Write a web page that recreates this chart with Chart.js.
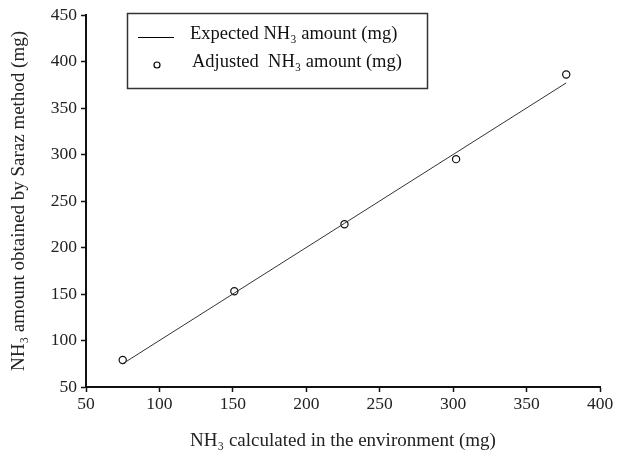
<!DOCTYPE html>
<html>
<head>
<meta charset="utf-8">
<script src="https://cdn.jsdelivr.net/npm/chart.js@4"></script>
<style>
  html, body { margin: 0; padding: 0; background: #fff; }
  #wrap { width: 624px; height: 456px; }
</style>
</head>
<body>
<div id="wrap"><canvas id="grafico"></canvas></div>
<script>
// valores
const calculado = [75, 151, 226, 302, 377];
const esperado = [75, 151, 226, 302, 377];
const ajustado = [79, 153, 225, 295, 386];
const ticksX = [50, 100, 150, 200, 250, 300, 350, 400];
const ticksY = [50, 100, 150, 200, 250, 300, 350, 400, 450];

const fonte = "'Liberation Serif', 'Times New Roman', serif";

// legenda com caixa dentro do gráfico
const legendaCaixa = {
  id: 'legendaCaixa',
  afterDraw(chart) {
    const ctx = chart.ctx;
    ctx.save();
    ctx.strokeStyle = '#333';
    ctx.lineWidth = 1.5;
    ctx.strokeRect(127.5, 13.5, 300, 75);
    ctx.strokeStyle = '#000';
    ctx.lineWidth = 1;
    ctx.beginPath();
    ctx.moveTo(138, 37.5);
    ctx.lineTo(174, 37.5);
    ctx.stroke();
    ctx.beginPath();
    ctx.arc(157, 65, 3, 0, Math.PI * 2);
    ctx.lineWidth = 1.2;
    ctx.stroke();
    ctx.fillStyle = '#111';
    ctx.font = '18.5px ' + fonte;
    ctx.textBaseline = 'middle';
    ctx.fillText(chart.data.datasets[0].label, 190, 34);
    ctx.fillText(chart.data.datasets[1].label, 192, 62);
    ctx.restore();
  }
};

const ctx = document.getElementById('grafico').getContext('2d');
new Chart(ctx, {
  type: 'scatter',
  data: {
    datasets: [
      {
        label: 'Expected NH₃ amount (mg)',
        data: calculado.map((x, i) => ({ x: x, y: esperado[i] })),
        showLine: true,
        borderColor: '#333',
        borderWidth: 1,
        pointRadius: 0,
      },
      {
        label: 'Adjusted  NH₃ amount (mg)',
        data: calculado.map((x, i) => ({ x: x, y: ajustado[i] })),
        showLine: false,
        pointRadius: 3.6,
        pointBackgroundColor: '#fff',
        pointBorderColor: '#111',
        pointBorderWidth: 1.2,
      },
    ],
  },
  options: {
    responsive: true,
    maintainAspectRatio: false,
    animation: false,
    layout: { padding: { top: 15, right: 24, left: 4, bottom: 0 } },
    plugins: {
      legend: { display: false },
      tooltip: { enabled: false },
    },
    scales: {
      x: {
        type: 'linear',
        min: 50,
        max: 400,
        afterBuildTicks: axis => { axis.ticks = ticksX.map(v => ({ value: v })); },
        afterFit: axis => { axis.height = 69; },
        border: { color: '#111', width: 2 },
        grid: { display: true, drawOnChartArea: false, drawTicks: true, tickLength: 5, tickColor: '#111', tickWidth: 1.5 },
        ticks: { color: '#222', font: { family: fonte, size: 17.5 }, padding: 2 },
        title: {
          display: true,
          text: 'NH₃ calculated in the environment (mg)',
          color: '#222',
          font: { family: fonte, size: 19 },
          padding: { top: 10 },
        },
      },
      y: {
        type: 'linear',
        min: 50,
        max: 450,
        afterBuildTicks: axis => { axis.ticks = ticksY.map(v => ({ value: v })); },
        afterFit: axis => { axis.width = 82; },
        border: { color: '#111', width: 2 },
        grid: { display: true, drawOnChartArea: false, drawTicks: true, tickLength: 5, tickColor: '#111', tickWidth: 1.5 },
        ticks: { color: '#222', font: { family: fonte, size: 17.5 }, padding: 4 },
        title: {
          display: true,
          text: 'NH₃ amount obtained by Saraz method (mg)',
          color: '#222',
          font: { family: fonte, size: 19 },
          padding: { bottom: 4 },
        },
      },
    },
  },
  plugins: [legendaCaixa],
});
</script>
</body>
</html>
